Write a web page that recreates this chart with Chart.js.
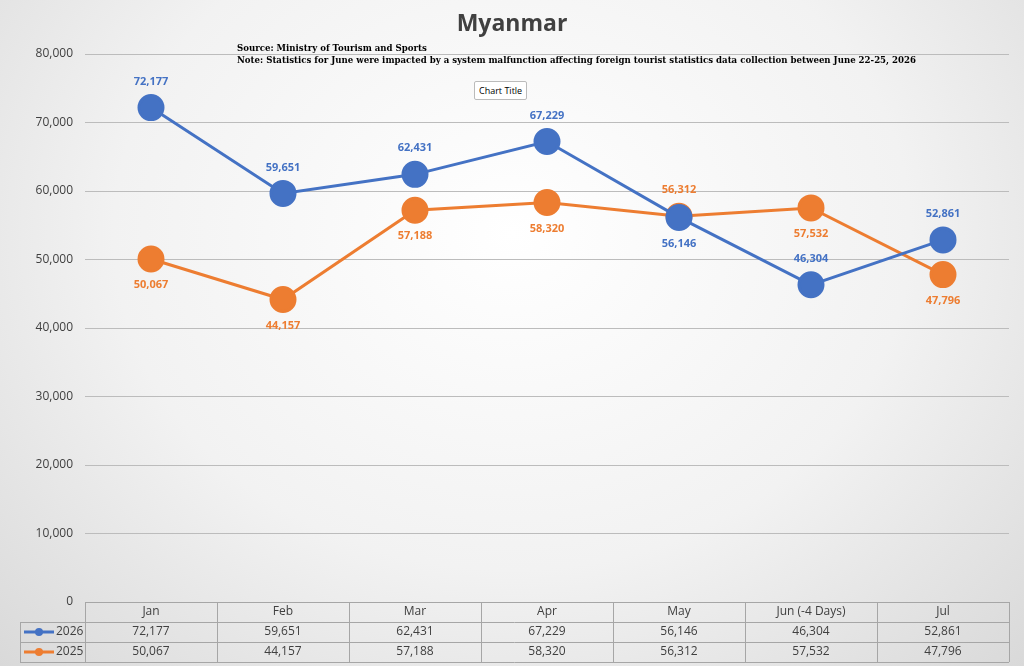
<!DOCTYPE html>
<html><head><meta charset="utf-8">
<script src="https://cdn.jsdelivr.net/npm/chart.js@4/dist/chart.umd.min.js"></script>
<style>
html,body{margin:0;padding:0;width:1024px;height:666px;overflow:hidden;
  background:radial-gradient(ellipse at 50% 35%, #ffffff 0%, #f2f2f2 55%, #d9d9d9 100%);
  font-family:"Open Sans",sans-serif;}
#wrap{position:absolute;left:0;top:0;width:1024px;height:666px;}
#title{position:absolute;top:6px;left:0;width:1024px;text-align:center;font-size:23px;font-weight:bold;color:#404040;}
#note{position:absolute;left:237px;top:42px;font-family:"DejaVu Serif",serif;font-weight:bold;font-size:8.6px;line-height:12px;color:#000;}
#ct{position:absolute;left:474px;top:81px;font-size:9px;padding:2px 4px;border:1px solid #bbb;background:#fff;border-radius:2px;}
</style></head><body>
<div id="wrap"><canvas id="c" width="1024" height="666"></canvas></div>
<div id="title">Myanmar</div>
<div id="note">Source: Ministry of Tourism and Sports<br>Note: Statistics for June were impacted by a system malfunction affecting foreign tourist statistics data collection between June 22-25, 2026</div>
<div id="ct">Chart Title</div>
<script>
const months = ["Jan", "Feb", "Mar", "Apr", "May", "Jun (-4 Days)", "Jul"];
const y2026 = [72177, 59651, 62431, 67229, 56146, 46304, 52861];
const y2025 = [50067, 44157, 57188, 58320, 56312, 57532, 47796];
const yTicks = [0, 10000, 20000, 30000, 40000, 50000, 60000, 70000, 80000];
// label above (-1) or below (+1)
const pos2026 = [-1, -1, -1, -1, 1, -1, -1];
const pos2025 = [1, 1, 1, 1, -1, 1, 1];

const blue = "#4472C4", orange = "#ED7D31";
const fmt = v => v.toLocaleString("en-US");

const labelsPlugin = {
  id: "pointLabels",
  afterDatasetsDraw(chart) {
    const ctx = chart.ctx;
    ctx.save();
    ctx.font = "bold 11px 'Open Sans'";
    ctx.textAlign = "center";
    ctx.textBaseline = "middle";
    [[0, pos2026, blue], [1, pos2025, orange]].forEach(([i, p, col]) => {
      chart.getDatasetMeta(i).data.forEach((pt, j) => {
        ctx.fillStyle = col;
        ctx.fillText(fmt(chart.data.datasets[i].data[j]), pt.x, pt.y + p[j] * 26);
      });
    });
    ctx.restore();
  }
};

const tablePlugin = {
  id: "dataTable",
  afterDraw(chart) {
    const ctx = chart.ctx, xs = chart.scales.x, a = chart.chartArea;
    const top = a.bottom, rh = 20, left = a.left, right = a.right, keyL = 20;
    const w = (right - left) / months.length;
    ctx.save();
    ctx.strokeStyle = "#a6a6a6";
    ctx.lineWidth = 1;
    ctx.beginPath();
    ctx.moveTo(left, top + 0.5); ctx.lineTo(right, top + 0.5);
    for (let r = 1; r <= 3; r++) { ctx.moveTo(keyL, top + r * rh + 0.5); ctx.lineTo(right, top + r * rh + 0.5); }
    ctx.moveTo(keyL + 0.5, top + rh); ctx.lineTo(keyL + 0.5, top + 3 * rh);
    for (let k = 0; k <= months.length; k++) {
      const x = Math.round(left + k * w) + 0.5;
      ctx.moveTo(x, top); ctx.lineTo(x, top + 3 * rh);
    }
    ctx.stroke();
    ctx.font = "12px 'Open Sans'";
    ctx.fillStyle = "#404040";
    ctx.textAlign = "center";
    ctx.textBaseline = "middle";
    months.forEach((m, j) => {
      const x = xs.getPixelForValue(j);
      ctx.fillText(m, x, top + rh / 2);
      ctx.fillText(fmt(y2026[j]), x, top + rh * 1.5);
      ctx.fillText(fmt(y2025[j]), x, top + rh * 2.5);
    });
    [[blue, "2026", 1.5], [orange, "2025", 2.5]].forEach(([col, name, r]) => {
      const y = top + rh * r;
      ctx.strokeStyle = col; ctx.lineWidth = 3;
      ctx.beginPath(); ctx.moveTo(24, y); ctx.lineTo(54, y); ctx.stroke();
      ctx.fillStyle = col; ctx.beginPath(); ctx.arc(39, y, 4, 0, Math.PI * 2); ctx.fill();
      ctx.fillStyle = "#404040"; ctx.textAlign = "left";
      ctx.fillText(name, 56, y);
      ctx.textAlign = "center";
    });
    ctx.restore();
  }
};

new Chart(document.getElementById("c"), {
  type: "line",
  data: {
    labels: months,
    datasets: [
      { label: "2026", data: y2026, borderColor: blue, backgroundColor: blue, borderWidth: 3, pointRadius: 12, pointHoverRadius: 12, tension: 0 },
      { label: "2025", data: y2025, borderColor: orange, backgroundColor: orange, borderWidth: 3, pointRadius: 12, pointHoverRadius: 12, tension: 0 }
    ]
  },
  options: {
    responsive: false,
    animation: false,
    layout: { padding: { top: 54, bottom: 56, right: 11, left: 0 } },
    plugins: { legend: { display: false }, title: { display: false }, tooltip: { enabled: false } },
    scales: {
      x: { offset: true, grid: { display: false }, border: { display: false }, ticks: { display: false } },
      y: {
        min: 0, max: 80000,
        afterBuildTicks: s => { s.ticks = yTicks.map(v => ({ value: v })); },
        afterFit: s => { s.width = 85; },
        grid: { color: "#bcbcbc", drawTicks: false },
        border: { display: false },
        ticks: { padding: 12, color: "#404040", font: { size: 12, family: "Open Sans" }, callback: v => fmt(v) }
      }
    }
  },
  plugins: [labelsPlugin, tablePlugin]
});
</script>
</body></html>
